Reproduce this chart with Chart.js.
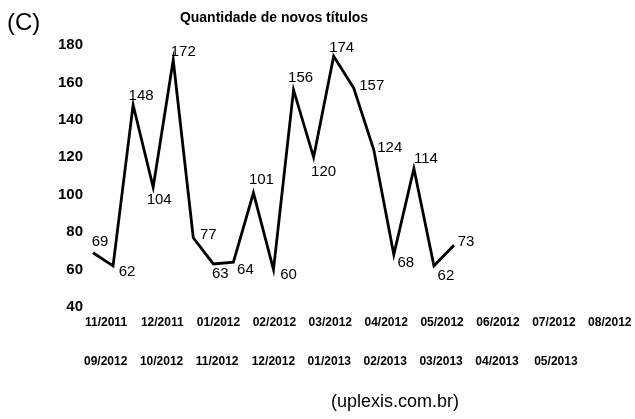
<!DOCTYPE html>
<html>
<head>
<meta charset="utf-8">
<script src="https://cdn.jsdelivr.net/npm/chart.js@4"></script>
<style>
  html, body { margin: 0; padding: 0; background: #fff; }
  canvas { display: block; }
</style>
</head>
<body>
<canvas id="grafico" width="635" height="419"></canvas>
<script>
// valores
const meses = ["11/2011", "12/2011", "01/2012", "02/2012", "03/2012", "04/2012", "05/2012",
  "06/2012", "07/2012", "08/2012", "09/2012", "10/2012", "11/2012", "12/2012",
  "01/2013", "02/2013", "03/2013", "04/2013", "05/2013"];
const novosTitulos = [69, 62, 148, 104, 172, 77, 63, 64, 101, 60, 156, 120, 174, 157, 124, 68, 114, 62, 73];
const rotulosLinha1 = meses.slice(0, 10);
const rotulosLinha2 = meses.slice(10);
const titulo = "Quantidade de novos títulos";
const fonte = "(uplexis.com.br)";

// deslocamento de cada rotulo em relacao ao ponto (dx, dy)
const posRotulos = [
  [7, -11], [14, 6], [8, -9], [6, 13], [10, -8], [15, -3], [7, 10], [12, 8], [8, -13], [15, 5],
  [7, -12], [10, 15], [8, -8], [18, -2], [16, -2], [12, 8], [12, -10], [12, 10], [12, -3]
];

const FAMILIA = "'Liberation Sans', Arial, sans-serif";

const textos = {
  id: "textos",
  afterDraw(chart) {
    const ctx = chart.ctx;
    ctx.save();
    ctx.fillStyle = "#000";
    ctx.textBaseline = "middle";

    // rotulos dos pontos
    ctx.font = "15px " + FAMILIA;
    ctx.textAlign = "center";
    const meta = chart.getDatasetMeta(0);
    meta.data.forEach((p, i) => {
      const [dx, dy] = posRotulos[i];
      ctx.fillText(String(novosTitulos[i]), p.x + dx, p.y + dy);
    });

    // meses em duas linhas
    ctx.font = "bold 12px " + FAMILIA;
    ctx.textAlign = "left";
    rotulosLinha1.forEach((m, i) => ctx.fillText(m, 85 + i * 55.9, 323));
    rotulosLinha2.forEach((m, i) => ctx.fillText(m, 84 + i * 55.9 + (i === 8 ? 3 : 0), 362));

    ctx.font = "bold 14px " + FAMILIA;
    ctx.textAlign = "center";
    ctx.fillText(titulo, 274, 18);

    ctx.font = "24px " + FAMILIA;
    ctx.textAlign = "left";
    ctx.fillText("(C)", 7, 23);

    ctx.font = "18px " + FAMILIA;
    ctx.textAlign = "center";
    ctx.fillText(fonte, 395, 402);
    ctx.restore();
  }
};

new Chart(document.getElementById("grafico").getContext("2d"), {
  type: "line",
  data: {
    labels: meses,
    datasets: [{
      data: novosTitulos,
      borderColor: "#000",
      borderWidth: 2.8,
      borderJoinStyle: "miter",
      tension: 0,
      pointRadius: 0,
      fill: false,
      clip: false
    }]
  },
  options: {
    responsive: false,
    animation: false,
    layout: { padding: { left: 0, right: 181, top: 45, bottom: 112 } },
    plugins: {
      legend: { display: false },
      tooltip: { enabled: false }
    },
    scales: {
      x: {
        display: false,
        offset: false
      },
      y: {
        min: 40,
        max: 180,
        afterFit(s) { s.width = 93; },
        grid: { display: false, drawTicks: false },
        border: { display: false },
        ticks: {
          stepSize: 20,
          padding: 10,
          color: "#000",
          font: { family: FAMILIA, size: 15, weight: "bold" }
        }
      }
    }
  },
  plugins: [textos]
});
</script>
</body>
</html>
